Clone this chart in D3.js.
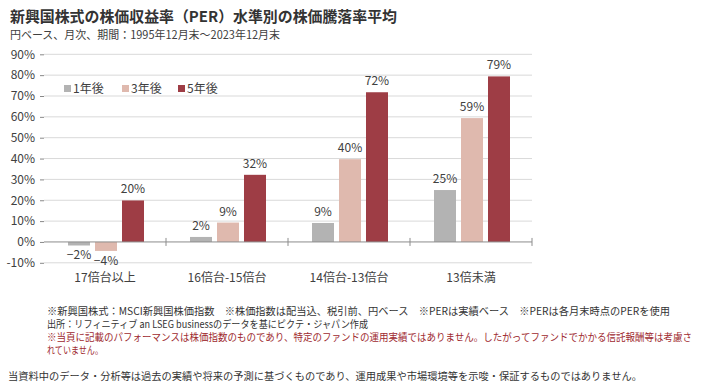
<!DOCTYPE html>
<html>
<head>
<meta charset="utf-8">
<script src="https://cdn.jsdelivr.net/npm/d3@7"></script>
<style>
  body { margin: 0; background: #fff; }
  svg text { font-family: "Noto Sans CJK JP", "Noto Sans", sans-serif; }
</style>
</head>
<body>
<script>
// categories and series (values in %)
let categories = ["17倍台以上", "16倍台-15倍台", "14倍台-13倍台", "13倍未満"];
let seriesNames = ["1年後", "3年後", "5年後"];
let colors = ["#b3b3b3", "#dfb9ae", "#9e3d45"];
let oneYear = [-1.7, 2.4, 9.1, 24.9];
let threeYear = [-4.3, 9.3, 39.7, 59.4];
let fiveYear = [19.9, 32.2, 71.8, 79.4];
let yTicks = [-10, 0, 10, 20, 30, 40, 50, 60, 70, 80, 90];

let notes = [
  "※新興国株式：MSCI新興国株価指数　※株価指数は配当込、税引前、円ベース　※PERは実績ベース　※PERは各月末時点のPERを使用",
  "出所：リフィニティブ an LSEG businessのデータを基にピクテ・ジャパン作成"
];
let redNotes = [
  "※当頁に記載のパフォーマンスは株価指数のものであり、特定のファンドの運用実績ではありません。したがってファンドでかかる信託報酬等は考慮さ",
  "れていません。"
];
let disclaimer = "当資料中のデータ・分析等は過去の実績や将来の予測に基づくものであり、運用成果や市場環境等を示唆・保証するものではありません。";

let width = 708, height = 391;
let margin = { top: 54, left: 44, right: 176, bottom: 128 };

let svg = d3.select("body").append("svg")
  .attr("width", width)
  .attr("height", height);

// title
svg.append("text")
  .attr("x", 10).attr("y", 22)
  .attr("font-size", 15).attr("font-weight", "bold")
  .attr("fill", "#333")
  .attr("textLength", 387).attr("lengthAdjust", "spacingAndGlyphs")
  .text("新興国株式の株価収益率（PER）水準別の株価騰落率平均");
svg.append("text")
  .attr("x", 10).attr("y", 39)
  .attr("font-size", 11.5)
  .attr("fill", "#404040")
  .attr("textLength", 270).attr("lengthAdjust", "spacingAndGlyphs")
  .text("円ベース、月次、期間：1995年12月末～2023年12月末");

let x0 = d3.scaleBand()
  .domain(categories)
  .range([margin.left, width - margin.right]);

let x1 = d3.scaleBand()
  .domain(seriesNames)
  .range([24, 100])
  .paddingInner(0.185);

let y = d3.scaleLinear()
  .domain([-10, 90])
  .range([262.8, 54.3]);

// gridlines
svg.append("g")
  .selectAll("line")
  .data(yTicks.filter(d => d != 0))
  .join("line")
  .attr("x1", margin.left).attr("x2", width - margin.right)
  .attr("y1", d => y(d)).attr("y2", d => y(d))
  .attr("stroke", "#d9d9d9");

// y axis (ticks + labels, no domain line)
let yAxis = svg.append("g")
  .attr("transform", `translate(${margin.left},0)`)
  .call(d3.axisLeft(y).tickValues(yTicks).tickSize(4).tickPadding(5).tickFormat(d => d + "%"));
yAxis.select(".domain").remove();
yAxis.selectAll("line").attr("stroke", "#888");
yAxis.selectAll("text")
  .attr("font-size", 12)
  .attr("fill", "#404040")
  .style("font-family", "'Noto Sans CJK JP', sans-serif");

// bars
let table = categories.map((c, i) => ({
  cat: c,
  vals: [oneYear[i], threeYear[i], fiveYear[i]]
}));

let groups = svg.append("g")
  .selectAll("g")
  .data(table)
  .join("g")
  .attr("transform", d => `translate(${x0(d.cat)},0)`);

groups.selectAll("rect")
  .data(d => d.vals.map((v, j) => ({ name: seriesNames[j], v: v, j: j })))
  .join("rect")
  .attr("x", d => x1(d.name))
  .attr("width", x1.bandwidth())
  .attr("y", d => y(Math.max(0, d.v)))
  .attr("height", d => Math.abs(y(d.v) - y(0)))
  .attr("fill", d => colors[d.j]);

groups.selectAll("text")
  .data(d => d.vals.map((v, j) => ({ name: seriesNames[j], v: v, j: j })))
  .join("text")
  .attr("x", d => x1(d.name) + x1.bandwidth() / 2)
  .attr("y", d => d.v >= 0 ? y(d.v) - 7 : y(d.v) + 14)
  .attr("text-anchor", "middle")
  .attr("font-size", 12)
  .attr("fill", "#404040")
  .text(d => (d.v < 0 ? "−" : "") + Math.abs(Math.round(d.v)) + "%");

// zero line with category ticks
let xAxis = svg.append("g")
  .attr("transform", `translate(0,${y(0)})`);
xAxis.append("line")
  .attr("x1", margin.left).attr("x2", width - margin.right)
  .attr("stroke", "#8c8c8c");
xAxis.selectAll(".ctick")
  .data(categories.slice(1).concat(["end"]))
  .join("line")
  .attr("class", "ctick")
  .attr("x1", (d, i) => margin.left + x0.step() * (i + 1))
  .attr("x2", (d, i) => margin.left + x0.step() * (i + 1))
  .attr("y1", -4).attr("y2", 4)
  .attr("stroke", "#8c8c8c");

// category labels
svg.append("g")
  .selectAll("text")
  .data(categories)
  .join("text")
  .attr("x", d => x0(d) + x0.bandwidth() / 2)
  .attr("y", 282)
  .attr("text-anchor", "middle")
  .attr("font-size", 12)
  .attr("fill", "#404040")
  .text(d => d);

// legend
let legendX = [64, 122, 178];
let legend = svg.append("g")
  .selectAll("g")
  .data(seriesNames)
  .join("g")
  .attr("transform", (d, i) => `translate(${legendX[i]},85)`);
legend.append("rect")
  .attr("width", 7).attr("height", 7)
  .attr("fill", (d, i) => colors[i]);
legend.append("text")
  .attr("x", 9).attr("y", 8)
  .attr("font-size", 12)
  .attr("fill", "#404040")
  .text(d => d);

// footnotes, widths
let noteWidths = [623, 321];
let redWidths = [645, 56];
svg.append("g")
  .selectAll("text")
  .data(notes)
  .join("text")
  .attr("x", 47)
  .attr("y", (d, i) => 315 + i * 13)
  .attr("font-size", 10)
  .attr("fill", "#333")
  .attr("textLength", (d, i) => noteWidths[i])
  .attr("lengthAdjust", "spacingAndGlyphs")
  .text(d => d);
svg.append("g")
  .selectAll("text")
  .data(redNotes)
  .join("text")
  .attr("x", 47)
  .attr("y", (d, i) => 341 + i * 13)
  .attr("font-size", 10)
  .attr("fill", "#9e2a2f")
  .attr("textLength", (d, i) => redWidths[i])
  .attr("lengthAdjust", "spacingAndGlyphs")
  .text(d => d);
svg.append("text")
  .attr("x", 8).attr("y", 380)
  .attr("font-size", 10)
  .attr("fill", "#333")
  .attr("textLength", 634)
  .attr("lengthAdjust", "spacingAndGlyphs")
  .text(disclaimer);
</script>
</body>
</html>
